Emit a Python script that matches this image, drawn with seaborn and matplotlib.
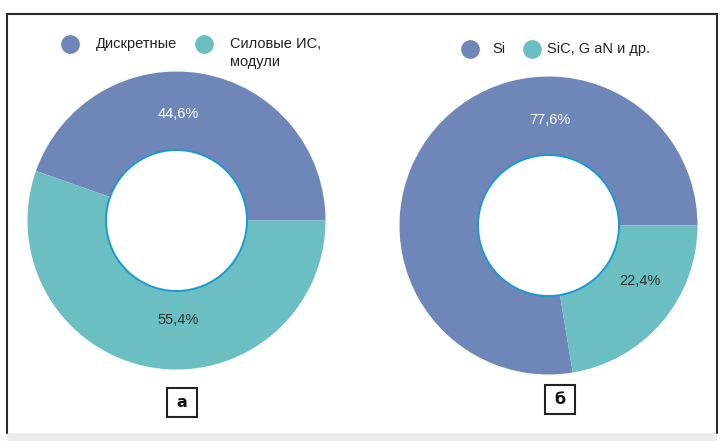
import matplotlib
matplotlib.use("Agg")
import matplotlib.pyplot as plt
import seaborn as sns
import numpy as np
from matplotlib.patches import Circle, Rectangle

# данные
labels_a = ["Дискретные", "Силовые ИС,\nмодули"]
values_a = [44.6, 55.4]
labels_b = ["Si", "SiC, G aN и др."]
values_b = [77.6, 22.4]
panel_names = ["а", "б"]

sns.set_style("white")
plt.rcParams['font.family'] = ['Liberation Sans', 'DejaVu Sans']

colors = ["#6f86b8", "#6bbfc3"]
W, H = 726, 441
FS = 10.5

fig = plt.figure(figsize=(7.26, 4.41), dpi=100)
ax = fig.add_axes([0, 0, 1, 1])


def py(y):
    # пиксели сверху -> координаты оси
    return H - y


def donut(cx, cy, values, label_angles, label_r, label_colors):
    r_out, r_in = 149, 70.5
    ax.pie(values, colors=colors, startangle=0, counterclock=True,
           center=(cx, py(cy)), radius=r_out,
           wedgeprops=dict(width=r_out - r_in, edgecolor='none'))
    ax.add_patch(Circle((cx, py(cy)), r_in, facecolor='white',
                        edgecolor='#1a9ad0', lw=1.4, zorder=3))
    for v, a, r, c in zip(values, label_angles, label_r, label_colors):
        t = np.deg2rad(a)
        ax.text(cx + r * np.cos(t), py(cy) + r * np.sin(t),
                f"{v:.1f}%".replace(".", ","), color=c, fontsize=FS,
                ha='center', va='center', zorder=4)


donut(176.5, 220.5, values_a, [89, -89], [107, 100], ['white', '#333333'])
donut(548.5, 225.5, values_b, [89, -31], [106, 107], ['white', '#333333'])

# легенды
leg_items = [
    (70, 44, 96, labels_a[0], colors[0]),
    (204, 44, 230, labels_a[1].split("\n")[0], colors[1]),
    (470, 49, 492, labels_b[0], colors[0]),
    (532, 49, 547, labels_b[1], colors[1]),
]
for mx, my, tx, txt, c in leg_items:
    ax.plot([mx], [py(my)], 'o', ms=13.5, color=c, mec='none')
    ax.text(tx, py(my), txt, fontsize=FS, color='#222222', ha='left', va='center')
ax.text(230, py(62), labels_a[1].split("\n")[1], fontsize=FS, color='#222222',
        ha='left', va='center')

# подписи панелей
for (x0, y0), name in zip([(167, 388), (545, 385)], panel_names):
    ax.add_patch(Rectangle((x0, py(y0 + 29)), 30, 29, facecolor='white',
                           edgecolor='#222222', lw=1.5))
    ax.text(x0 + 15, py(y0 + 14.5), name, fontsize=11.5, fontweight='bold',
            family=['Liberation Sans Narrow', 'DejaVu Sans'],
            ha='center', va='center', color='#111111')

# рамка
ax.plot([7, 7, 717, 717], [py(433), py(14), py(14), py(433)],
        color='#2a2a2a', lw=1.5, solid_joinstyle='miter')
ax.add_patch(Rectangle((7, 0), 710, H - 433, facecolor='#ececec', edgecolor='none'))

ax.set_xlim(0, W)
ax.set_ylim(0, H)
ax.set_aspect('auto')
ax.axis('off')

fig.savefig("out.png", dpi=100, facecolor='white')
